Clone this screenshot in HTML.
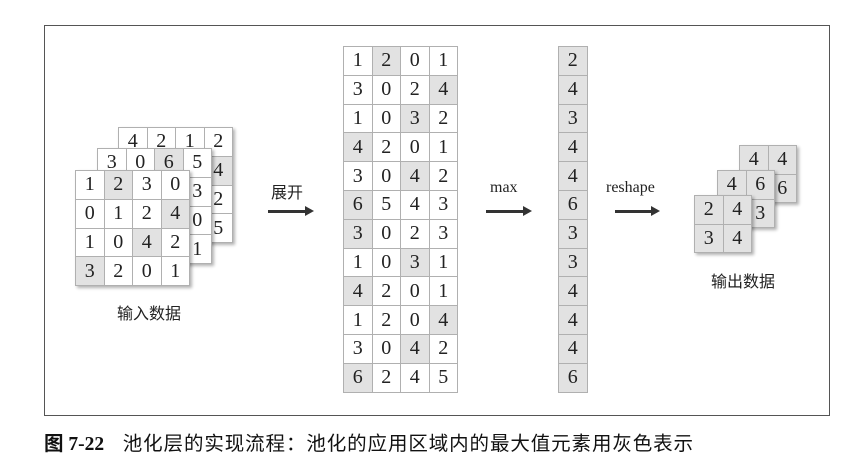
<!DOCTYPE html>
<html><head><meta charset="utf-8"><style>
body{margin:0;width:863px;height:466px;background:#fff;position:relative;overflow:hidden;font-family:"Liberation Serif",serif;}
.frame{position:absolute;left:44px;top:25px;width:784px;height:389px;border:1px solid #555;}
.g{position:absolute;display:grid;border-left:1px solid #b0b0b0;border-top:1px solid #b0b0b0;background:#fff;}
.g div{border-right:1px solid #b0b0b0;border-bottom:1px solid #b0b0b0;display:flex;align-items:center;justify-content:center;font-size:20px;color:#222;}
.g div.s{background:#e2e2e2;}
.sh{box-shadow:2px 2px 3px rgba(0,0,0,0.3);}
.c4{grid-template-columns:repeat(4,28.5px);grid-auto-rows:28.8px;}
.c2{grid-template-columns:repeat(2,28.5px);grid-auto-rows:28.5px;}
.c1{grid-template-columns:28.5px;grid-auto-rows:28.8px;}
.lbl{position:absolute;font-family:"Liberation Sans","Noto Sans CJK SC",sans-serif;font-size:16px;color:#222;}
.lt{position:absolute;font-family:"Liberation Serif",serif;font-size:16px;color:#222;}
.arr{position:absolute;height:3px;background:#333;}
.arr:after{content:"";position:absolute;right:-8px;top:-4px;border-left:9px solid #333;border-top:5.5px solid transparent;border-bottom:5.5px solid transparent;}
.cap{position:absolute;left:44px;top:427px;font-family:"Liberation Serif","Noto Sans CJK SC",sans-serif;font-size:19.5px;color:#111;white-space:nowrap;}
.cap span{letter-spacing:0.9px;margin-left:4px;}
</style></head><body>
<div class="frame"></div>

<div class="g c4 sh" style="left:118px;top:127px;">
<div>4</div><div>2</div><div>1</div><div>2</div>
<div></div><div></div><div></div><div class="s">4</div>
<div></div><div></div><div></div><div>2</div>
<div></div><div></div><div></div><div>5</div>
</div>
<div class="g c4 sh" style="left:97px;top:148px;">
<div>3</div><div>0</div><div class="s">6</div><div>5</div>
<div></div><div></div><div></div><div>3</div>
<div></div><div></div><div></div><div>0</div>
<div></div><div></div><div></div><div>1</div>
</div>
<div class="g c4 sh" style="left:75px;top:170px;">
<div>1</div><div class="s">2</div><div>3</div><div>0</div>
<div>0</div><div>1</div><div>2</div><div class="s">4</div>
<div>1</div><div>0</div><div class="s">4</div><div>2</div>
<div class="s">3</div><div>2</div><div>0</div><div>1</div>
</div>
<div class="lbl" style="left:117px;top:300px;">输入数据</div>

<div class="lbl" style="left:271px;top:179px;">展开</div>
<div class="arr" style="left:268px;top:210px;width:38px;"></div>

<div class="g c4" style="left:343px;top:46px;">
<div>1</div><div class="s">2</div><div>0</div><div>1</div>
<div>3</div><div>0</div><div>2</div><div class="s">4</div>
<div>1</div><div>0</div><div class="s">3</div><div>2</div>
<div class="s">4</div><div>2</div><div>0</div><div>1</div>
<div>3</div><div>0</div><div class="s">4</div><div>2</div>
<div class="s">6</div><div>5</div><div>4</div><div>3</div>
<div class="s">3</div><div>0</div><div>2</div><div>3</div>
<div>1</div><div>0</div><div class="s">3</div><div>1</div>
<div class="s">4</div><div>2</div><div>0</div><div>1</div>
<div>1</div><div>2</div><div>0</div><div class="s">4</div>
<div>3</div><div>0</div><div class="s">4</div><div>2</div>
<div class="s">6</div><div>2</div><div>4</div><div>5</div>
</div>

<div class="lt" style="left:490px;top:179px;">max</div>
<div class="arr" style="left:486px;top:210px;width:38px;"></div>

<div class="g c1" style="left:558px;top:46px;">
<div class="s">2</div><div class="s">4</div><div class="s">3</div><div class="s">4</div>
<div class="s">4</div><div class="s">6</div><div class="s">3</div><div class="s">3</div>
<div class="s">4</div><div class="s">4</div><div class="s">4</div><div class="s">6</div>
</div>

<div class="lt" style="left:606px;top:179px;">reshape</div>
<div class="arr" style="left:615px;top:210px;width:37px;"></div>

<div class="g c2 sh" style="left:739px;top:145px;">
<div class="s">4</div><div class="s">4</div><div class="s"></div><div class="s">6</div>
</div>
<div class="g c2 sh" style="left:717px;top:170px;">
<div class="s">4</div><div class="s">6</div><div class="s"></div><div class="s">3</div>
</div>
<div class="g c2 sh" style="left:694px;top:195px;">
<div class="s">2</div><div class="s">4</div><div class="s">3</div><div class="s">4</div>
</div>
<div class="lbl" style="left:711px;top:268px;">输出数据</div>

<div class="cap"><b>图 7-22</b>&nbsp;&nbsp;&nbsp;<span>池化层的实现流程：池化的应用区域内的最大值元素用灰色表示</span></div>
</body></html>
